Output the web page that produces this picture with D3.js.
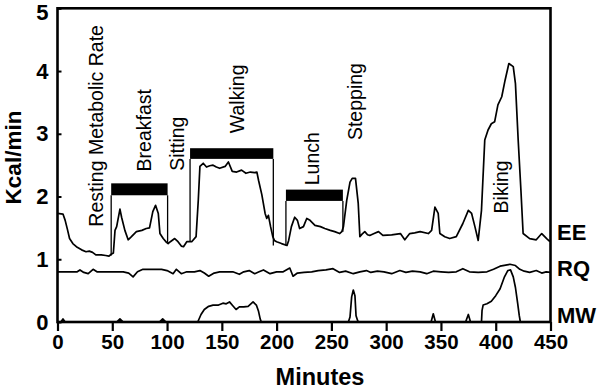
<!DOCTYPE html>
<html>
<head>
<meta charset="utf-8">
<script src="https://cdn.jsdelivr.net/npm/d3@7/dist/d3.min.js"></script>
<style>
  html, body { margin: 0; padding: 0; background: #fff; }
  svg { display: block; }
  text { font-family: "Liberation Sans", Arial, Helvetica, sans-serif; fill: #000; }
</style>
</head>
<body>
<svg id="chart" width="600" height="390"></svg>
<script>
// ---------------- data ----------------
const eeMinutes = [0,5,7,9,11,14,18,22,26,29,32,35,40,44,47,49,51,52.5,54,57,58.5,61.5,64.5,67.5,72,77,81,84,87,89.5,92,93.5,96.5,99.5,101,103,107,110,113,115,118,122.5,126.5,128.5,130,133,136,139,142,145,148,153,156,159.5,163.5,168,172,176,180,182,183.5,186.5,189.5,191,192.5,194.5,196.5,198,200,204.5,209.5,211,213.5,216.5,219,221,224.5,227.5,230.5,235,240,244,249,253,257.5,259.5,261,264,267,269,272,274.5,276,278,280.5,283,285,289,293,297,305,313,317,321.5,326,331,338.5,341.5,344.5,347.5,349,353.5,358,364,370,375,378,381,384,387,390,393,396,399,402,405.5,408.5,412,416,418,420.5,423,425,431,437,442,446.5,449,450];
const eeValues  = [1.73,1.72,1.62,1.48,1.33,1.25,1.19,1.15,1.12,1.13,1.11,1.07,1.07,1.06,1.05,1.08,1.10,1.46,1.52,1.80,1.67,1.46,1.31,1.36,1.44,1.46,1.49,1.50,1.76,1.86,1.73,1.41,1.33,1.27,1.25,1.28,1.33,1.28,1.21,1.20,1.28,1.28,1.36,1.94,2.48,2.53,2.47,2.49,2.50,2.47,2.45,2.48,2.55,2.40,2.39,2.42,2.37,2.39,2.38,2.39,2.26,2.03,1.73,1.65,1.70,1.52,1.36,1.30,1.28,1.25,1.22,1.30,1.52,1.67,1.62,1.49,1.52,1.65,1.62,1.54,1.52,1.49,1.46,1.44,1.41,1.44,1.52,1.94,2.23,2.29,2.29,1.89,1.36,1.40,1.44,1.39,1.38,1.41,1.44,1.38,1.39,1.41,1.31,1.41,1.42,1.44,1.41,1.46,1.83,1.73,1.41,1.36,1.33,1.36,1.57,1.78,1.73,1.52,1.30,1.78,2.90,3.06,3.16,3.19,3.46,3.59,3.85,4.12,4.07,3.80,2.90,2.10,1.41,1.33,1.31,1.41,1.33,1.29,1.30];

const rqMinutes = [0,18,20.5,24,28,32.5,36,45,60,65,69,73,78,85,95,100,105.5,108.5,113,118,125,130,134,138,143,148,155,160,166,170,175,180,184,188,194,200,206,212,215,219,225,232,238,245,251.5,257.5,263,270,276,282,286,292,298,305,312.5,318,324,331,337,343,350,357,364,370,376,384,392,398,404,413,418,422,426,431,437,442,446,450];
const rqValues  = [0.80,0.80,0.83,0.79,0.77,0.84,0.80,0.80,0.80,0.78,0.72,0.80,0.84,0.84,0.84,0.82,0.77,0.84,0.77,0.80,0.80,0.82,0.78,0.73,0.78,0.80,0.80,0.80,0.76,0.80,0.82,0.77,0.80,0.83,0.77,0.80,0.80,0.86,0.73,0.78,0.79,0.80,0.82,0.83,0.85,0.79,0.81,0.77,0.80,0.82,0.79,0.81,0.80,0.77,0.82,0.79,0.81,0.80,0.77,0.81,0.80,0.79,0.80,0.85,0.80,0.79,0.80,0.84,0.89,0.92,0.90,0.84,0.81,0.79,0.82,0.78,0.80,0.79];

const mwMinutes = [0,3,5,7,54,57,60,93,96,99,128,131,134,138,142,147,151,154,157,160,163,166,170,174,178.5,181.5,183.5,185,186,265.5,267,268.5,270,271.5,272.5,274,275,341,343,345,372.5,375,377,387,387.5,388.5,392,396,400,404,408,411,413.5,416,418,420,421.5,422.5,450];
const mwValues  = [0,0,0.05,0,0,0.05,0,0,0.05,0,0,0.12,0.20,0.25,0.27,0.27,0.30,0.29,0.32,0.26,0.20,0.24,0.24,0.25,0.32,0.27,0.17,0.05,0,0,0.08,0.40,0.51,0.42,0.10,0.02,0,0,0.13,0,0,0.12,0,0,0.18,0.27,0.29,0.33,0.42,0.53,0.72,0.82,0.83,0.72,0.55,0.30,0.10,0,0];

// activity bars (minutes / Kcal)
const barStart = [49, 121, 208.5];
const barEnd   = [100.5, 197, 260.5];
const barLow   = [2.02, 2.60, 1.93];
const barHigh  = [2.21, 2.77, 2.11];
const dropLeft  = [1.06, 1.29, 1.22];
const dropRight = [1.27, 1.22, 1.44];

// activity labels, anchored in data space (minute of baseline, value where text starts)
const activityLabels = ["Resting Metabolic Rate", "Breakfast", "Sitting", "Walking", "Lunch", "Stepping", "Biking"];
const labelMinute    = [41.8, 85.8, 115.5, 170.5, 238.7, 277.5, 411.2];
const labelValue     = [1.52, 2.40, 2.41, 3.01, 2.18, 2.90, 1.73];

const seriesNames = ["EE", "RQ", "MW"];
const xTicks = [0,50,100,150,200,250,300,350,400,450];
const yTicks = [0,1,2,3,4,5];

// ---------------- drawing ----------------
const svg = d3.select("#chart");
const x = d3.scaleLinear().domain([0, 450]).range([57.5, 550.5]);
const y = d3.scaleLinear().domain([0, 5]).range([322, 8.3]);

const line = d3.line().x(d => x(d[0])).y(d => y(d[1]));

function drawSeries(ms, vs) {
  svg.append("path")
    .datum(ms.map((m, i) => [m, vs[i]]))
    .attr("d", line)
    .attr("fill", "none")
    .attr("stroke", "#000")
    .attr("stroke-width", 1.7)
    .attr("stroke-linejoin", "round");
}
drawSeries(eeMinutes, eeValues);
drawSeries(rqMinutes, rqValues);
drawSeries(mwMinutes, mwValues);

// bars and drop lines
barStart.forEach((s, i) => {
  svg.append("rect")
    .attr("x", x(s)).attr("y", y(barHigh[i]))
    .attr("width", x(barEnd[i]) - x(s))
    .attr("height", y(barLow[i]) - y(barHigh[i]))
    .attr("fill", "#000");
  svg.append("line")
    .attr("x1", x(s)).attr("x2", x(s))
    .attr("y1", y(barLow[i])).attr("y2", y(dropLeft[i]))
    .attr("stroke", "#000").attr("stroke-width", 1.3);
  svg.append("line")
    .attr("x1", x(barEnd[i])).attr("x2", x(barEnd[i]))
    .attr("y1", y(barLow[i])).attr("y2", y(dropRight[i]))
    .attr("stroke", "#000").attr("stroke-width", 1.3);
});

// activity labels
activityLabels.forEach((t, i) => {
  const px = x(labelMinute[i]), py = y(labelValue[i]);
  svg.append("text")
    .attr("transform", `translate(${px},${py}) rotate(-90)`)
    .attr("text-anchor", "start")
    .style("font-size", "19.5px")
    .text(t);
});

// frame
svg.append("rect")
  .attr("x", x(0)).attr("y", y(5))
  .attr("width", x(450) - x(0)).attr("height", y(0) - y(5))
  .attr("fill", "none").attr("stroke", "#000").attr("stroke-width", 2.6);

// axes
const xAxis = svg.append("g")
  .attr("transform", `translate(0,${y(0)})`)
  .call(d3.axisBottom(x).tickValues(xTicks).tickFormat(d3.format("d")).tickSize(9).tickPadding(3));
xAxis.select(".domain").remove();
xAxis.selectAll("line").attr("stroke", "#000").attr("stroke-width", 2.2);
xAxis.selectAll("text")
  .attr("fill", "#000")
  .style("font-family", '"Liberation Sans", Arial, sans-serif')
  .style("font-weight", "bold").style("font-size", "20.5px");

const yAxis = svg.append("g")
  .attr("transform", `translate(${x(0)},0)`)
  .call(d3.axisLeft(y).tickValues(yTicks).tickFormat(d3.format("d")).tickSize(-4).tickPadding(9));
yAxis.select(".domain").remove();
yAxis.selectAll("line").attr("stroke", "#000").attr("stroke-width", 2);
yAxis.selectAll("text")
  .attr("fill", "#000")
  .style("font-family", '"Liberation Sans", Arial, sans-serif')
  .style("font-weight", "bold").style("font-size", "22px");
// keep the top label inside the picture
yAxis.selectAll(".tick").filter(d => d === 5).select("text").attr("dy", "0.5em");

// axis titles
svg.append("text")
  .attr("transform", `translate(21,157.5) rotate(-90)`)
  .attr("text-anchor", "middle")
  .style("font-weight", "bold").style("font-size", "22.5px")
  .text("Kcal/min");
svg.append("text")
  .attr("x", 320).attr("y", 385)
  .attr("text-anchor", "middle")
  .style("font-weight", "bold").style("font-size", "23.5px")
  .text("Minutes");

// series labels at right
const seriesBaseline = [240, 276, 323];
seriesNames.forEach((n, i) => {
  svg.append("text")
    .attr("x", 557).attr("y", seriesBaseline[i])
    .style("font-weight", "bold").style("font-size", "22px")
    .text(n);
});
</script>
</body>
</html>
